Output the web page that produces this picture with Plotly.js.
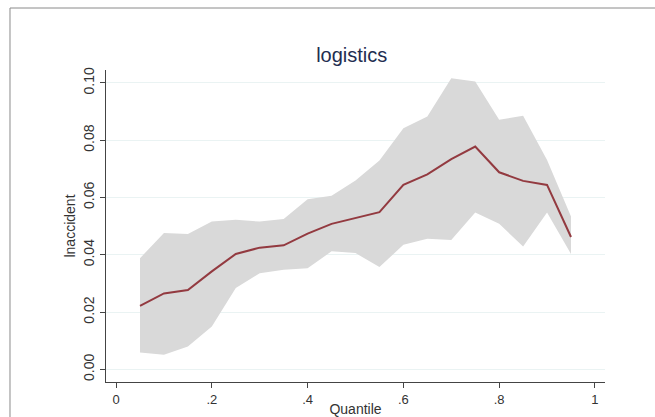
<!DOCTYPE html>
<html>
<head>
<meta charset="utf-8">
<script src="https://cdn.plot.ly/plotly-3.0.1.min.js"></script>
<style>
html,body{margin:0;padding:0;background:#fff;}
#chart{width:655px;height:417px;}
</style>
</head>
<body>
<div id="chart"></div>
<script>
// Quantiles and estimates
const quantiles = [0.05,0.10,0.15,0.20,0.25,0.30,0.35,0.40,0.45,0.50,0.55,0.60,0.65,0.70,0.75,0.80,0.85,0.90,0.95];
const estimate  = [0.0222,0.0265,0.0277,0.0342,0.0403,0.0425,0.0433,0.0474,0.0508,0.0528,0.0549,0.0644,0.0681,0.0734,0.0778,0.0688,0.0658,0.0644,0.0462];
const upperCI   = [0.0388,0.0476,0.0473,0.0516,0.0522,0.0516,0.0525,0.0594,0.0606,0.0659,0.0729,0.0842,0.0883,0.1016,0.1005,0.0871,0.0885,0.0731,0.0534];
const lowerCI   = [0.0059,0.0051,0.0080,0.0150,0.0284,0.0336,0.0348,0.0353,0.0412,0.0406,0.0357,0.0435,0.0456,0.0452,0.0548,0.0508,0.0429,0.0548,0.0403];
const xTickVals = [0,0.2,0.4,0.6,0.8,1];
const xTickText = ['0','.2','.4','.6','.8','1'];
const yTickVals = [0,0.02,0.04,0.06,0.08,0.10];

const traces = [
  {x: quantiles, y: lowerCI, mode:'lines', line:{width:0, color:'#d9d9d9'}, hoverinfo:'skip', showlegend:false},
  {x: quantiles, y: upperCI, mode:'lines', fill:'tonexty', fillcolor:'#d9d9d9', line:{width:0, color:'#d9d9d9'}, hoverinfo:'skip', showlegend:false},
  {x: quantiles, y: estimate, mode:'lines', line:{width:2, color:'#933a40'}, showlegend:false}
];

const FONT = '"Liberation Sans", Arial, sans-serif';
const layout = {
  width:655, height:417,
  paper_bgcolor:'#ffffff', plot_bgcolor:'#ffffff',
  margin:{l:106, r:50, t:70, b:35},
  font:{family:FONT, color:'#333', size:14},
  title:{text:'logistics', x:0.537, xanchor:'center', y:0.868, yanchor:'middle',
         font:{size:20, color:'#1f2d50', family:FONT}},
  xaxis:{range:[-0.021,1.021], tickvals:xTickVals, ticktext:xTickText, ticks:'outside', ticklen:5,
         tickcolor:'#444', showline:true, linecolor:'#444', linewidth:1.2, showgrid:false, zeroline:false,
         tickfont:{size:13, color:'#333'},
         title:{text:'Quantile', standoff:0, font:{size:14, color:'#333'}}},
  yaxis:{range:[-0.0044,0.1045], tickvals:yTickVals, tickformat:'.2f', ticks:'outside', ticklen:5,
         tickcolor:'#444', showline:true, linecolor:'#444', linewidth:1.2, showgrid:true, gridcolor:'#eaf3f3',
         gridwidth:1, zeroline:false, tickangle:-90, tickfont:{size:14, color:'#333'},
         title:{text:'lnaccident', standoff:2, font:{size:14, color:'#333'}}},
  shapes:[
    {type:'rect', xref:'paper', yref:'paper', x0:-0.1924, x1:1.2, y0:-0.2, y1:1.1987,
     line:{color:'#8a8a8a', width:1}, fillcolor:'rgba(0,0,0,0)', layer:'below'}
  ]
};

Plotly.newPlot('chart', traces, layout, {displayModeBar:false, staticPlot:true});
</script>
</body>
</html>
